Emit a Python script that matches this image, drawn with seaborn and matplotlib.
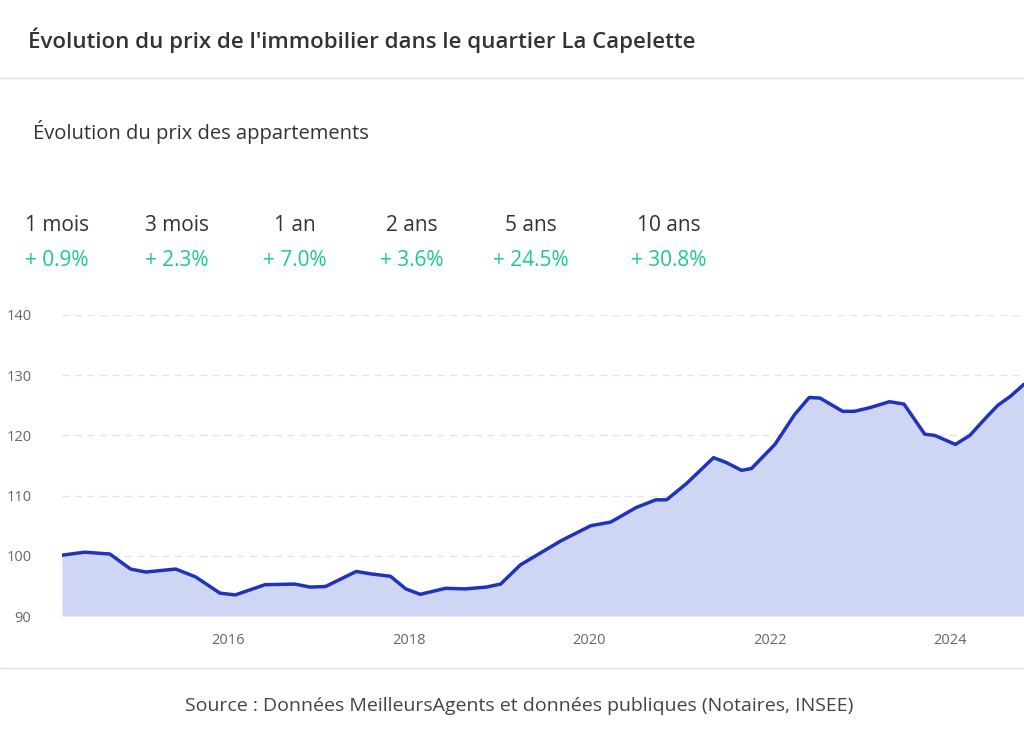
import numpy as np
import matplotlib
matplotlib.use('Agg')
import matplotlib.pyplot as plt
import seaborn as sns
import pandas as pd

# Data (decimal year, index value)
years = [2014.16, 2014.41, 2014.69, 2014.92, 2015.09, 2015.42, 2015.64, 2015.91, 2016.08,
         2016.41, 2016.74, 2016.91, 2017.08, 2017.42, 2017.58, 2017.80, 2017.97, 2018.13,
         2018.41, 2018.63, 2018.86, 2019.02, 2019.24, 2019.69, 2020.02, 2020.24, 2020.52,
         2020.74, 2020.86, 2021.08, 2021.38, 2021.52, 2021.69, 2021.80, 2022.06, 2022.28,
         2022.44, 2022.56, 2022.81, 2022.94, 2023.11, 2023.33, 2023.49, 2023.72, 2023.83,
         2024.06, 2024.22, 2024.39, 2024.53, 2024.67, 2024.82]
prices = [100.1, 100.6, 100.3, 97.8, 97.3, 97.8, 96.5, 93.8, 93.5,
          95.2, 95.3, 94.8, 94.9, 97.4, 97.0, 96.6, 94.5, 93.6,
          94.6, 94.5, 94.8, 95.3, 98.5, 102.5, 105.0, 105.6, 108.0,
          109.3, 109.3, 112.0, 116.3, 115.5, 114.2, 114.5, 118.5, 123.5,
          126.3, 126.2, 124.0, 124.0, 124.6, 125.6, 125.2, 120.2, 120.0,
          118.5, 120.0, 122.8, 125.0, 126.5, 128.5]
periods = ['1 mois', '3 mois', '1 an', '2 ans', '5 ans', '10 ans']
changes = ['+ 0.9%', '+ 2.3%', '+ 7.0%', '+ 3.6%', '+ 24.5%', '+ 30.8%']
year_ticks = [2016, 2018, 2020, 2022, 2024]
value_ticks = [90, 100, 110, 120, 130, 140]

df = pd.DataFrame({'year': years, 'price': prices})

sns.set_style('white')
plt.rcParams['font.family'] = ['Open Sans', 'DejaVu Sans']

fig = plt.figure(figsize=(10.24, 7.3), dpi=100)
ax = fig.add_axes([62 / 1024, 114 / 730, 962 / 1024, 301 / 730])

ax.fill_between(df['year'], df['price'], 90, color='#cfd6f3', linewidth=0)
sns.lineplot(data=df, x='year', y='price', ax=ax, color='#1f33bd', linewidth=2.5)

ax.set_xlim(years[0], years[-1])
ax.set_ylim(90, 140)
ax.set_xticks(year_ticks)
ax.set_xticklabels([str(y) for y in year_ticks])
ax.set_yticks(value_ticks)
ax.set_xlabel('')
ax.set_ylabel('')
for s in ax.spines.values():
    s.set_visible(False)
ax.yaxis.grid(True, linestyle=(0, (5, 4)), color='#e3e3e3', linewidth=1)
ax.set_axisbelow(True)
ax.tick_params(axis='both', length=0, labelsize=10.5, colors='#666666')
ax.tick_params(axis='y', pad=22)
ax.tick_params(axis='x', pad=12)

# header / footer
fig.text(28 / 1024, 1 - 40 / 730, "Évolution du prix de l'immobilier dans le quartier La Capelette",
         fontsize=16, fontweight='semibold', color='#333333', va='center')
fig.add_artist(plt.Line2D([0, 1], [1 - 78 / 730] * 2, color='#e0e0e0', linewidth=1))
fig.text(33 / 1024, 1 - 132 / 730, "Évolution du prix des appartements",
         fontsize=14.5, color='#333333', va='center')
xs = [57, 177, 295, 412, 531, 669]
for x, p, c in zip(xs, periods, changes):
    fig.text(x / 1024, 1 - 226 / 730, p, fontsize=15, color='#333333', ha='center', va='center')
    fig.text(x / 1024, 1 - 260 / 730, c, fontsize=15, color='#1ec98b', ha='center', va='center')
fig.add_artist(plt.Line2D([0, 1], [1 - 668 / 730] * 2, color='#e0e0e0', linewidth=1))
fig.text(0.507, 1 - 706 / 730, "Source : Données MeilleursAgents et données publiques (Notaires, INSEE)",
         fontsize=14, color='#444444', ha='center', va='center')

fig.savefig('out.png', dpi=100)
